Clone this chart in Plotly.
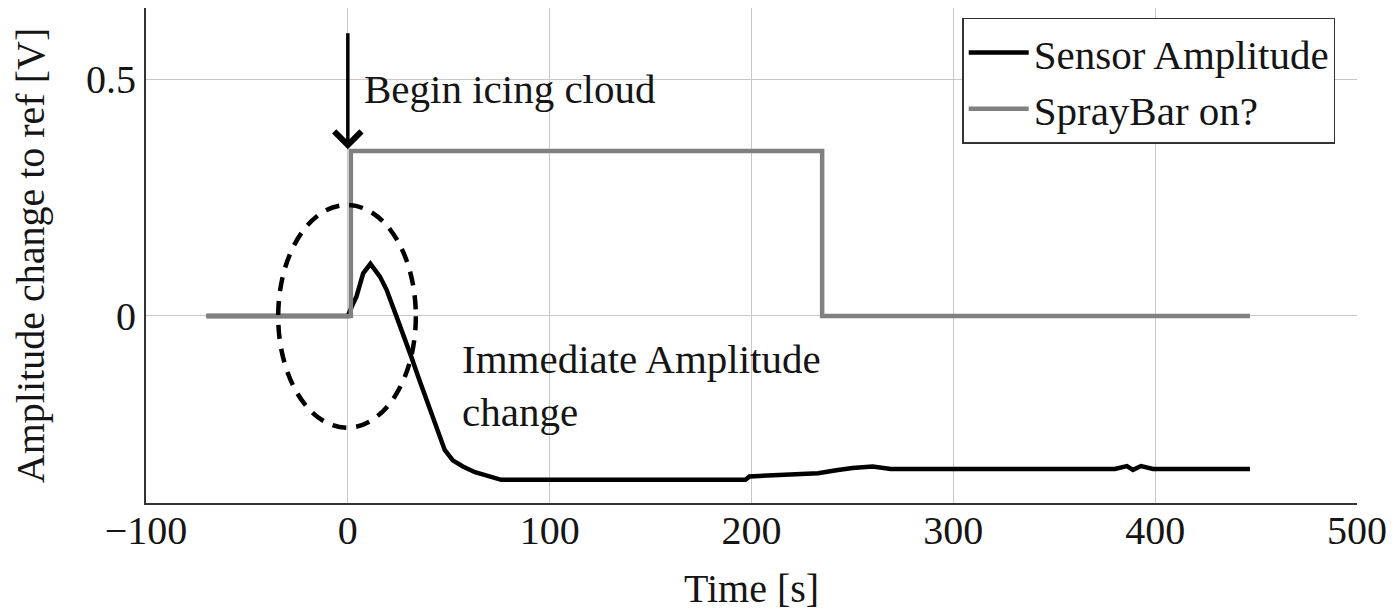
import plotly.graph_objects as go

# Sensor amplitude trace (time [s], amplitude change [V])
sensor_time = [-70, 0, 2, 4.3, 7.6, 11.2, 15.9, 19.2, 24, 26, 31.5, 35, 39, 44, 48, 52, 57, 63,
               70, 76, 100, 150, 197, 199, 215, 233, 242, 250, 260, 269, 300, 350, 380, 386,
               389, 393, 399, 447]
sensor_amp = [0, 0, 0.02, 0.041, 0.09, 0.11, 0.083, 0.055, 0.0, -0.022, -0.087, -0.13, -0.177,
              -0.236, -0.283, -0.305, -0.318, -0.33, -0.339, -0.346,
              -0.346, -0.346, -0.346, -0.339, -0.336, -0.332, -0.326, -0.321, -0.318, -0.323,
              -0.323, -0.323, -0.323, -0.317, -0.325, -0.317, -0.323, -0.323]

# Spray bar state
spray_time = [-70, 1.5, 1.5, 235, 235, 447]
spray_val = [0, 0, 0.348, 0.348, 0, 0]

x_ticks = [-100, 0, 100, 200, 300, 400, 500]
x_tick_text = ["\u2212100", "0", "100", "200", "300", "400", "500"]
y_ticks = [0, 0.5]
y_tick_text = ["0", "0.5"]

FONT = "Liberation Serif"
TXT = "#151515"

fig = go.Figure()
fig.add_trace(go.Scatter(x=sensor_time, y=sensor_amp, mode="lines", name="Sensor Amplitude",
                         line=dict(color="black", width=4.5)))
fig.add_trace(go.Scatter(x=spray_time, y=spray_val, mode="lines", name="SprayBar on?",
                         line=dict(color="#808080", width=4.5)))

# dashed ellipse around the immediate change
fig.add_shape(type="circle", xref="x", yref="y", x0=-34.5, x1=33.7, y0=-0.236, y1=0.234,
              line=dict(color="black", width=4.5, dash="14px,10px"))

# arrow: begin icing cloud
fig.add_annotation(x=0, y=0.352, ax=0, ay=0.6, xref="x", yref="y", axref="x", ayref="y",
                   showarrow=True, arrowhead=4, arrowwidth=3.5, arrowsize=1.5,
                   arrowcolor="black", text="")
fig.add_annotation(x=7, y=0.48, xref="x", yref="y", text="Begin icing cloud", showarrow=False,
                   xanchor="left", yanchor="middle", font=dict(family=FONT, size=41, color=TXT))
fig.add_annotation(x=55.5, y=-0.146, xref="x", yref="y", text="Immediate Amplitude<br>change",
                   showarrow=False, xanchor="left", yanchor="middle", align="left",
                   font=dict(family=FONT, size=41, color=TXT))

# the page body adds an 8 px margin, so the figure is 8 px smaller and shifted
fig.update_layout(
    width=1387, height=606,
    margin=dict(l=138, r=38, t=0, b=111),
    plot_bgcolor="white", paper_bgcolor="white",
    font=dict(family=FONT, size=40, color=TXT),
    showlegend=True,
    legend=dict(x=0.982, y=0.98, xanchor="right", yanchor="top",
                bordercolor="#333", borderwidth=1.5, bgcolor="white",
                font=dict(family=FONT, size=41, color=TXT),
                tracegroupgap=0, itemwidth=60),
    xaxis=dict(range=[-100, 500], tickvals=x_ticks, ticktext=x_tick_text,
               showgrid=True, gridcolor="#c8c8c8", gridwidth=1.3,
               showline=True, linecolor="#333", linewidth=2, zeroline=False,
               ticks="", ticklen=0, ticklabelstandoff=-9, automargin=False,
               tickfont=dict(family=FONT, size=40, color=TXT),
               title=dict(text="Time [s]", standoff=22, font=dict(family=FONT, size=40))),
    yaxis=dict(range=[-0.395, 0.65], tickvals=y_ticks, ticktext=y_tick_text,
               showgrid=True, gridcolor="#c8c8c8", gridwidth=1.3,
               showline=True, linecolor="#333", linewidth=2, zeroline=False,
               ticks="", ticklen=0, ticklabelstandoff=0, automargin=False,
               tickfont=dict(family=FONT, size=40, color=TXT),
               title=dict(text="Amplitude change to ref [V]", standoff=30,
                          font=dict(family=FONT, size=40))),
)

fig.write_html("out.html")
